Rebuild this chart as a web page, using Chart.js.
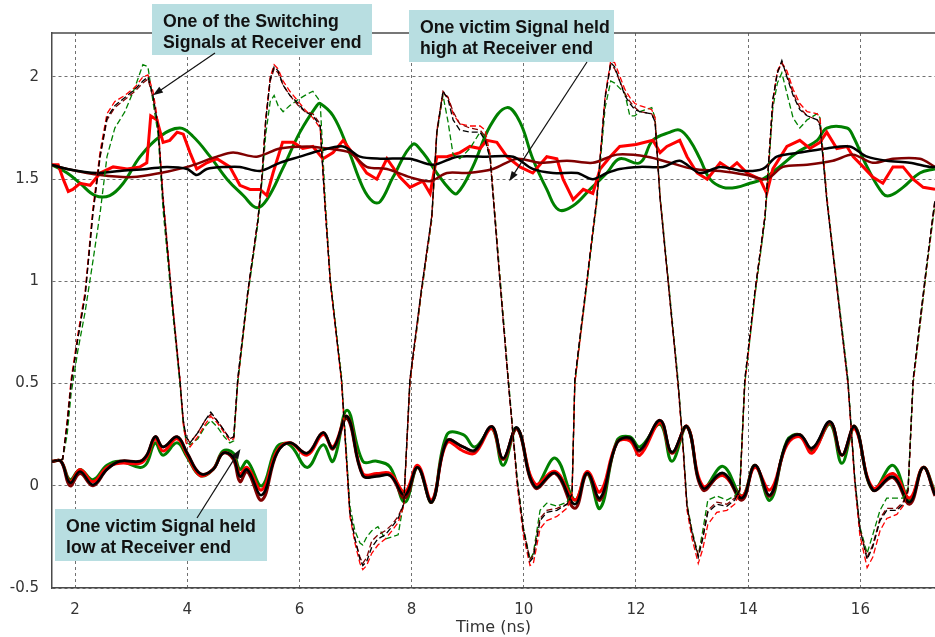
<!DOCTYPE html>
<html>
<head>
<meta charset="utf-8">
<script src="https://cdn.jsdelivr.net/npm/chart.js@4.4.1/dist/chart.umd.min.js"></script>
<style>
  html, body { margin: 0; padding: 0; background: #fff; }
  #wrap { width: 935px; height: 637px; }
</style>
</head>
<body>
<div id="wrap"><canvas id="c" width="935" height="637"></canvas></div>
<script>
// axis ticks
const xTicks = [2, 4, 6, 8, 10, 12, 14, 16];
const yTicks = [-0.5, 0, 0.5, 1, 1.5, 2];

// switching signal (dashed) — shared time base, ns
const swT = [1.59, 1.78, 1.86, 1.93, 2.05, 2.18, 2.32, 2.45, 2.57, 2.71, 2.89, 3.07, 3.21, 3.30, 3.39, 3.48, 3.57, 3.73, 3.87, 3.93,
  3.98, 4.05, 4.19, 4.32, 4.42, 4.53, 4.66, 4.76, 4.83, 4.90, 5.08, 5.26, 5.33, 5.40, 5.48, 5.55, 5.62, 5.71, 5.83, 5.98,
  6.10, 6.24, 6.37, 6.46, 6.55, 6.75, 6.90, 6.99, 7.08, 7.13, 7.20, 7.29, 7.40, 7.53, 7.65, 7.76, 7.86, 7.97, 8.17, 8.36,
  8.45, 8.56, 8.65, 8.74, 8.86, 9.04, 9.22, 9.31, 9.40, 9.56, 9.72, 9.88, 9.99, 10.11, 10.17, 10.29, 10.41, 10.59, 10.77, 10.86,
  10.91, 11.10, 11.30, 11.45, 11.55, 11.62, 11.80, 11.89, 11.98, 12.07, 12.28, 12.34, 12.43, 12.59, 12.75, 12.84, 12.91, 13.00, 13.11, 13.19,
  13.28, 13.44, 13.62, 13.76, 13.85, 13.94, 14.12, 14.30, 14.44, 14.52, 14.60, 14.69, 14.80, 14.92, 15.05, 15.23, 15.28, 15.40, 15.59, 15.78,
  15.90, 15.99, 16.12, 16.22, 16.35, 16.47, 16.65, 16.76, 16.85, 16.94, 17.19, 17.33];
const swBlack = [0.12, 0.13, 0.30, 0.50, 0.72, 0.93, 1.34, 1.62, 1.80, 1.86, 1.90, 1.94, 1.98, 2.00, 1.91, 1.76, 1.40, 0.91, 0.52, 0.32,
  0.24, 0.21, 0.26, 0.32, 0.36, 0.32, 0.27, 0.23, 0.24, 0.52, 0.95, 1.30, 1.50, 1.79, 1.99, 2.05, 2.03, 1.96, 1.91, 1.87,
  1.83, 1.81, 1.76, 1.35, 1.00, 0.52, -0.13, -0.26, -0.36, -0.39, -0.37, -0.30, -0.26, -0.24, -0.20, -0.16, -0.09, 0.52, 0.95, 1.32,
  1.73, 1.93, 1.89, 1.79, 1.74, 1.73, 1.73, 1.69, 1.60, 1.05, 0.52, 0.03, -0.21, -0.37, -0.35, -0.17, -0.13, -0.12, -0.09, -0.04,
  0.52, 0.95, 1.40, 1.90, 2.07, 2.05, 1.91, 1.87, 1.84, 1.83, 1.82, 1.78, 1.40, 0.95, 0.50, 0.19, -0.10, -0.23, -0.35, -0.26,
  -0.13, -0.09, -0.10, -0.07, -0.02, 0.52, 0.95, 1.32, 1.89, 2.02, 2.08, 2.00, 1.91, 1.84, 1.81, 1.79, 1.76, 1.40, 0.95, 0.50,
  0.03, -0.21, -0.36, -0.30, -0.17, -0.12, -0.12, -0.09, -0.02, 0.52, 1.10, 1.40];
const swRed = [0.12, 0.13, 0.32, 0.52, 0.74, 0.95, 1.36, 1.64, 1.82, 1.88, 1.91, 1.95, 2.00, 2.01, 1.93, 1.78, 1.42, 0.92, 0.53, 0.30,
  0.21, 0.19, 0.24, 0.30, 0.34, 0.31, 0.26, 0.22, 0.23, 0.50, 0.94, 1.30, 1.51, 1.80, 2.00, 2.06, 2.04, 1.98, 1.93, 1.88,
  1.84, 1.80, 1.75, 1.36, 1.00, 0.51, -0.15, -0.28, -0.38, -0.41, -0.39, -0.33, -0.29, -0.26, -0.22, -0.18, -0.10, 0.50, 0.94, 1.31,
  1.74, 1.92, 1.90, 1.82, 1.77, 1.76, 1.76, 1.74, 1.62, 1.06, 0.52, 0.01, -0.24, -0.39, -0.38, -0.21, -0.17, -0.15, -0.11, -0.05,
  0.50, 0.94, 1.40, 1.91, 2.08, 2.07, 1.94, 1.90, 1.87, 1.86, 1.84, 1.80, 1.41, 0.95, 0.49, 0.17, -0.12, -0.26, -0.38, -0.31,
  -0.19, -0.13, -0.12, -0.09, -0.03, 0.50, 0.94, 1.32, 1.88, 2.03, 2.07, 2.03, 1.94, 1.87, 1.83, 1.82, 1.80, 1.42, 0.95, 0.49,
  0.01, -0.24, -0.40, -0.35, -0.22, -0.16, -0.14, -0.10, -0.03, 0.50, 1.09, 1.39];
const swDarkRed = [0.12, 0.13, 0.30, 0.50, 0.72, 0.93, 1.33, 1.61, 1.79, 1.85, 1.89, 1.93, 1.97, 1.99, 1.90, 1.75, 1.39, 0.90, 0.51, 0.32,
  0.24, 0.21, 0.26, 0.32, 0.35, 0.32, 0.27, 0.23, 0.24, 0.52, 0.95, 1.30, 1.50, 1.78, 1.98, 2.04, 2.02, 1.96, 1.91, 1.86,
  1.83, 1.82, 1.77, 1.36, 1.00, 0.52, -0.13, -0.26, -0.35, -0.38, -0.35, -0.27, -0.24, -0.22, -0.19, -0.15, -0.09, 0.52, 0.95, 1.32,
  1.73, 1.93, 1.90, 1.83, 1.77, 1.75, 1.74, 1.71, 1.60, 1.05, 0.52, 0.03, -0.21, -0.36, -0.34, -0.16, -0.12, -0.11, -0.09, -0.04,
  0.52, 0.95, 1.40, 1.90, 2.06, 2.04, 1.92, 1.88, 1.85, 1.83, 1.82, 1.78, 1.40, 0.95, 0.50, 0.19, -0.10, -0.23, -0.34, -0.25,
  -0.12, -0.08, -0.09, -0.06, -0.02, 0.52, 0.95, 1.32, 1.89, 2.02, 2.07, 2.01, 1.92, 1.85, 1.81, 1.79, 1.77, 1.40, 0.95, 0.50,
  0.03, -0.21, -0.35, -0.29, -0.16, -0.11, -0.11, -0.08, -0.02, 0.52, 1.10, 1.40];
const swGreen = [0.12, 0.13, 0.25, 0.45, 0.66, 0.85, 1.10, 1.34, 1.61, 1.75, 1.83, 1.95, 2.06, 2.05, 1.88, 1.72, 1.35, 0.88, 0.50, 0.30,
  0.22, 0.20, 0.23, 0.29, 0.32, 0.29, 0.24, 0.21, 0.22, 0.50, 0.93, 1.28, 1.48, 1.72, 1.88, 1.91, 1.86, 1.83, 1.86, 1.89,
  1.91, 1.93, 1.88, 1.40, 1.02, 0.54, -0.10, -0.22, -0.28, -0.29, -0.25, -0.22, -0.20, -0.26, -0.25, -0.24, -0.08, 0.50, 0.93, 1.30,
  1.72, 1.91, 1.78, 1.62, 1.60, 1.65, 1.73, 1.70, 1.62, 1.08, 0.54, 0.04, -0.20, -0.36, -0.33, -0.12, -0.085, -0.10, -0.08, -0.03,
  0.50, 0.93, 1.38, 1.85, 1.98, 1.97, 1.92, 1.81, 1.81, 1.83, 1.85, 1.80, 1.42, 0.97, 0.52, 0.20, -0.09, -0.22, -0.34, -0.22,
  -0.07, -0.05, -0.07, -0.05, -0.01, 0.50, 0.93, 1.30, 1.85, 1.97, 2.02, 1.92, 1.80, 1.75, 1.79, 1.82, 1.80, 1.42, 0.97, 0.52,
  0.04, -0.20, -0.33, -0.24, -0.12, -0.06, -0.06, -0.06, -0.01, 0.50, 1.08, 1.38];

// victim held low — shared time base
const lowT = [1.59, 1.75, 1.91, 2.09, 2.32, 2.57, 2.80, 3.16, 3.28, 3.43, 3.57, 3.82, 4.00, 4.23, 4.46, 4.64, 4.82, 4.94, 5.07, 5.33,
  5.60, 5.83, 6.14, 6.42, 6.60, 6.85, 7.13, 7.38, 7.62, 7.88, 8.11, 8.36, 8.63, 8.92, 9.13, 9.43, 9.63, 9.88, 10.20, 10.56,
  10.91, 11.13, 11.36, 11.66, 11.89, 12.07, 12.43, 12.64, 12.91, 13.19, 13.55, 13.89, 14.12, 14.39, 14.69, 14.92, 15.14, 15.46, 15.67, 15.90,
  16.22, 16.58, 16.88, 17.12, 17.33];
const lowBlack = [0.12, 0.12, 0.015, 0.07, 0.005, 0.08, 0.12, 0.12, 0.15, 0.24, 0.19, 0.24, 0.16, 0.06, 0.08, 0.16, 0.14, 0.045, 0.08, -0.045,
  0.16, 0.21, 0.16, 0.26, 0.185, 0.34, 0.05, 0.045, 0.05, -0.045, 0.09, -0.08, 0.22, 0.19, 0.175, 0.29, 0.135, 0.285, -0.005, 0.063,
  -0.09, 0.063, -0.06, 0.21, 0.235, 0.175, 0.32, 0.165, 0.29, -0.01, 0.063, -0.06, 0.10, -0.045, 0.215, 0.25, 0.185, 0.315, 0.15, 0.29,
  -0.02, 0.045, -0.08, 0.09, -0.045];
const lowDarkRed = [0.12, 0.12, 0.00, 0.06, 0.00, 0.08, 0.12, 0.12, 0.15, 0.24, 0.19, 0.24, 0.16, 0.06, 0.08, 0.16, 0.13, 0.02, 0.07, -0.07,
  0.16, 0.21, 0.16, 0.26, 0.18, 0.33, 0.05, 0.05, 0.05, -0.06, 0.09, -0.08, 0.22, 0.19, 0.17, 0.29, 0.13, 0.28, -0.01, 0.06,
  -0.11, 0.06, -0.07, 0.21, 0.23, 0.17, 0.32, 0.16, 0.29, -0.02, 0.06, -0.07, 0.10, -0.05, 0.21, 0.25, 0.18, 0.31, 0.15, 0.29,
  -0.02, 0.04, -0.09, 0.09, -0.05];
const lowRed = [0.12, 0.12, 0.02, 0.08, 0.02, 0.09, 0.11, 0.11, 0.14, 0.23, 0.17, 0.23, 0.15, 0.05, 0.08, 0.16, 0.14, 0.06, 0.09, -0.02,
  0.17, 0.21, 0.15, 0.25, 0.19, 0.34, 0.06, 0.06, 0.06, -0.03, 0.10, -0.07, 0.21, 0.17, 0.16, 0.28, 0.13, 0.28, 0.01, 0.07,
  -0.07, 0.07, -0.03, 0.21, 0.22, 0.15, 0.31, 0.16, 0.29, 0.00, 0.05, -0.05, 0.09, -0.02, 0.20, 0.24, 0.16, 0.31, 0.15, 0.28,
  -0.01, 0.06, -0.06, 0.09, -0.04];
const lowGreen = [0.12, 0.12, 0.03, 0.08, 0.03, 0.10, 0.12, 0.09, 0.11, 0.21, 0.15, 0.21, 0.14, 0.05, 0.08, 0.17, 0.16, 0.08, 0.12, 0.00,
  0.19, 0.20, 0.09, 0.20, 0.12, 0.37, 0.12, 0.12, 0.09, -0.08, 0.09, -0.08, 0.25, 0.25, 0.19, 0.28, 0.10, 0.28, 0.00, 0.135,
  -0.07, 0.06, -0.11, 0.22, 0.24, 0.19, 0.30, 0.12, 0.29, -0.01, 0.095, -0.05, 0.10, -0.07, 0.22, 0.25, 0.17, 0.30, 0.11, 0.29,
  -0.02, 0.10, -0.07, 0.09, -0.03];

// victim held high — one time base per trace
const hiBlackT = [1.59, 1.86, 2.39, 2.80, 3.28, 3.64, 4.00, 4.17, 4.35, 4.71, 4.94, 5.30, 5.65, 6.01, 6.37, 6.78, 7.08, 7.44, 7.97, 8.38,
  8.81, 9.34, 9.81, 10.16, 10.52, 10.95, 11.23, 11.48, 11.71, 12.07, 12.48, 12.78, 13.14, 13.50, 13.91, 14.26, 14.51, 14.92, 15.40, 15.81,
  16.12, 16.47, 16.88, 17.24, 17.33];
const hiBlack = [1.57, 1.55, 1.53, 1.54, 1.55, 1.56, 1.55, 1.52, 1.55, 1.56, 1.56, 1.54, 1.58, 1.61, 1.64, 1.66, 1.61, 1.60, 1.60, 1.57,
  1.61, 1.61, 1.61, 1.55, 1.53, 1.53, 1.50, 1.53, 1.55, 1.56, 1.56, 1.59, 1.53, 1.56, 1.54, 1.55, 1.61, 1.63, 1.65, 1.66,
  1.61, 1.59, 1.58, 1.56, 1.56];
const hiDarkRedT = [1.59, 1.86, 2.45, 3.03, 3.52, 4.00, 4.53, 4.82, 5.24, 5.65, 6.14, 6.50, 6.90, 7.20, 7.56, 7.97, 8.33, 8.63, 8.99, 9.45,
  9.88, 10.29, 10.77, 11.23, 11.66, 12.20, 12.61, 13.02, 13.50, 13.98, 14.33, 14.62, 15.05, 15.51, 15.87, 16.22, 16.58, 17.06, 17.33];
const hiDarkRed = [1.57, 1.55, 1.52, 1.51, 1.53, 1.56, 1.61, 1.63, 1.61, 1.65, 1.66, 1.65, 1.63, 1.56, 1.55, 1.51, 1.49, 1.53, 1.53, 1.55,
  1.60, 1.58, 1.59, 1.58, 1.62, 1.61, 1.58, 1.55, 1.54, 1.52, 1.50, 1.56, 1.57, 1.59, 1.62, 1.58, 1.60, 1.60, 1.56];
const hiGreenT = [1.59, 1.86, 2.09, 2.36, 2.62, 2.86, 3.16, 3.52, 3.87, 4.10, 4.41, 4.71, 5.00, 5.24, 5.42, 5.70, 6.01, 6.31, 6.37, 6.60,
  6.85, 7.13, 7.31, 7.44, 7.67, 8.02, 8.20, 8.45, 8.68, 8.81, 9.09, 9.40, 9.70, 9.93, 10.16, 10.41, 10.62, 10.88, 11.18, 11.48,
  11.71, 12.07, 12.30, 12.61, 12.78, 12.96, 13.14, 13.32, 13.55, 13.80, 14.03, 14.26, 14.51, 14.87, 15.23, 15.40, 15.76, 15.87, 16.12, 16.40,
  16.53, 16.76, 17.06, 17.33];
const hiGreen = [1.57, 1.53, 1.48, 1.42, 1.42, 1.48, 1.61, 1.71, 1.75, 1.71, 1.61, 1.50, 1.42, 1.36, 1.40, 1.55, 1.73, 1.86, 1.87, 1.81,
  1.66, 1.46, 1.39, 1.39, 1.51, 1.67, 1.63, 1.53, 1.45, 1.43, 1.56, 1.76, 1.85, 1.78, 1.60, 1.45, 1.35, 1.37, 1.45, 1.53,
  1.60, 1.58, 1.69, 1.73, 1.74, 1.69, 1.60, 1.50, 1.46, 1.46, 1.48, 1.50, 1.55, 1.63, 1.69, 1.75, 1.75, 1.71, 1.56, 1.43,
  1.42, 1.46, 1.53, 1.55];
const hiRedT = [1.59, 1.70, 1.79, 1.88, 1.96, 2.09, 2.27, 2.45, 2.68, 2.93, 3.16, 3.28, 3.35, 3.46, 3.57, 3.69, 3.82, 3.93, 4.05, 4.17,
  4.35, 4.53, 4.76, 4.94, 5.12, 5.30, 5.42, 5.53, 5.70, 5.89, 6.06, 6.24, 6.42, 6.60, 6.78, 7.02, 7.20, 7.38, 7.56, 7.79,
  7.97, 8.20, 8.33, 8.45, 8.63, 8.86, 9.04, 9.22, 9.34, 9.52, 9.70, 9.93, 10.16, 10.41, 10.59, 10.70, 10.88, 11.06, 11.23, 11.36,
  11.54, 11.71, 12.00, 12.30, 12.43, 12.55, 12.78, 12.91, 13.09, 13.27, 13.50, 13.67, 13.80, 13.98, 14.21, 14.33, 14.44, 14.69, 14.92, 15.10,
  15.28, 15.40, 15.58, 15.76, 15.87, 16.05, 16.22, 16.40, 16.58, 16.76, 16.94, 17.12, 17.33];
const hiRed = [1.57, 1.57, 1.50, 1.44, 1.45, 1.48, 1.47, 1.53, 1.56, 1.55, 1.56, 1.58, 1.81, 1.79, 1.68, 1.69, 1.73, 1.72, 1.63, 1.55,
  1.58, 1.60, 1.56, 1.47, 1.45, 1.45, 1.42, 1.53, 1.68, 1.68, 1.65, 1.66, 1.60, 1.63, 1.69, 1.60, 1.53, 1.50, 1.60, 1.51,
  1.46, 1.49, 1.43, 1.61, 1.61, 1.63, 1.66, 1.65, 1.69, 1.68, 1.61, 1.56, 1.53, 1.61, 1.60, 1.50, 1.40, 1.45, 1.43, 1.55,
  1.61, 1.66, 1.67, 1.69, 1.63, 1.66, 1.69, 1.61, 1.53, 1.50, 1.58, 1.55, 1.58, 1.53, 1.50, 1.43, 1.55, 1.66, 1.69, 1.65,
  1.68, 1.73, 1.65, 1.66, 1.61, 1.56, 1.51, 1.48, 1.56, 1.56, 1.50, 1.46, 1.45];

// callout boxes (pixels) with arrow tips in data units
const callouts = [
  { box: [152, 4, 220, 51], lines: ['One of the Switching', 'Signals at Receiver end'], from: [215, 53], tip: [3.39, 1.91] },
  { box: [409, 10, 205, 52], lines: ['One victim Signal held', 'high at Receiver end'], from: [587, 62], tip: [9.74, 1.49] },
  { box: [55, 509, 212, 52], lines: ['One victim Signal held', 'low at Receiver end'], from: [197, 518], tip: [4.95, 0.18] },
];

const pts = (ts, vs) => ts.map((t, i) => ({ x: t, y: vs[i] }));

function dashed(label, color, vals) {
  return { label, data: pts(swT, vals), borderColor: color, borderWidth: 1.3, borderDash: [6, 3], tension: 0 };
}
function solid(label, color, ts, vals, width, tension) {
  return { label, data: pts(ts, vals), borderColor: color, borderWidth: width, tension };
}

const calloutPlugin = {
  id: 'callouts',
  beforeDatasetsDraw(chart) {
    const { ctx, chartArea } = chart;
    ctx.save();
    ctx.strokeStyle = '#4a4a4a';
    ctx.lineWidth = 1.5;
    ctx.beginPath();
    ctx.moveTo(chartArea.left, chartArea.top);
    ctx.lineTo(chartArea.right, chartArea.top);
    ctx.stroke();
    ctx.restore();
  },
  afterDraw(chart) {
    const { ctx, scales } = chart;
    ctx.save();
    callouts.forEach(c => {
      const [bx, by, bw, bh] = c.box;
      ctx.fillStyle = '#b8dee1';
      ctx.fillRect(bx, by, bw, bh);
      ctx.fillStyle = '#111';
      ctx.font = 'bold 17.7px "Liberation Sans", Arial, sans-serif';
      ctx.textBaseline = 'alphabetic';
      c.lines.forEach((ln, i) => ctx.fillText(ln, bx + 11, by + 22.5 + i * 21));

      // arrow
      const x0 = c.from[0], y0 = c.from[1];
      const x1 = scales.x.getPixelForValue(c.tip[0]);
      const y1 = scales.y.getPixelForValue(c.tip[1]);
      const a = Math.atan2(y1 - y0, x1 - x0);
      ctx.strokeStyle = '#111';
      ctx.lineWidth = 1.2;
      ctx.beginPath();
      ctx.moveTo(x0, y0);
      ctx.lineTo(x1 - 6 * Math.cos(a), y1 - 6 * Math.sin(a));
      ctx.stroke();
      ctx.beginPath();
      ctx.moveTo(x1, y1);
      ctx.lineTo(x1 - 10 * Math.cos(a) + 3.5 * Math.sin(a), y1 - 10 * Math.sin(a) - 3.5 * Math.cos(a));
      ctx.lineTo(x1 - 10 * Math.cos(a) - 3.5 * Math.sin(a), y1 - 10 * Math.sin(a) + 3.5 * Math.cos(a));
      ctx.closePath();
      ctx.fill();
    });
    ctx.restore();
  }
};

const tickFont = { family: '"DejaVu Sans", sans-serif', size: 15 };

new Chart(document.getElementById('c'), {
  type: 'line',
  data: {
    datasets: [
      dashed('sw black', '#000000', swBlack),
      dashed('sw dark red', '#800000', swDarkRed),
      dashed('sw red', '#ff0000', swRed),
      dashed('sw green', '#008000', swGreen),
      solid('low black', '#000000', lowT, lowBlack, 2.5, 0.4),
      solid('low dark red', '#800000', lowT, lowDarkRed, 3, 0.4),
      solid('low red', '#ff0000', lowT, lowRed, 3, 0.4),
      solid('low green', '#008000', lowT, lowGreen, 3, 0.4),
      solid('high black', '#000000', hiBlackT, hiBlack, 2.5, 0.3),
      solid('high dark red', '#800000', hiDarkRedT, hiDarkRed, 2.5, 0.3),
      solid('high red', '#ff0000', hiRedT, hiRed, 3, 0),
      solid('high green', '#008000', hiGreenT, hiGreen, 3, 0.4),
    ]
  },
  options: {
    responsive: false,
    animation: false,
    devicePixelRatio: 1,
    layout: { padding: { top: 33, right: 0, left: 0, bottom: 0 } },
    elements: { point: { radius: 0 }, line: { fill: false } },
    plugins: { legend: { display: false }, tooltip: { enabled: false } },
    scales: {
      x: {
        type: 'linear', min: 1.59, max: 17.33,
        afterBuildTicks: s => { s.ticks = xTicks.map(v => ({ value: v })); },
        afterFit: s => { s.height = 49; },
        grid: { color: '#707070', lineWidth: 1, drawTicks: false },
        border: { display: true, color: '#4a4a4a', width: 1.5, dash: [3, 3] },
        ticks: { color: '#333', font: tickFont, padding: 13, maxRotation: 0 },
        title: { display: true, text: 'Time (ns)', color: '#333', font: { family: '"DejaVu Sans", sans-serif', size: 16 }, padding: { top: 0, bottom: 0 } }
      },
      y: {
        type: 'linear', min: -0.5, max: 2.215,
        afterBuildTicks: s => { s.ticks = yTicks.map(v => ({ value: v })); },
        afterFit: s => { s.width = 52; },
        grid: { color: '#707070', lineWidth: 1, drawTicks: false },
        border: { display: true, color: '#4a4a4a', width: 1.5, dash: [3, 3] },
        ticks: { color: '#333', font: tickFont, padding: 13, callback: v => String(v) }
      }
    }
  },
  plugins: [calloutPlugin]
});
</script>
</body>
</html>
